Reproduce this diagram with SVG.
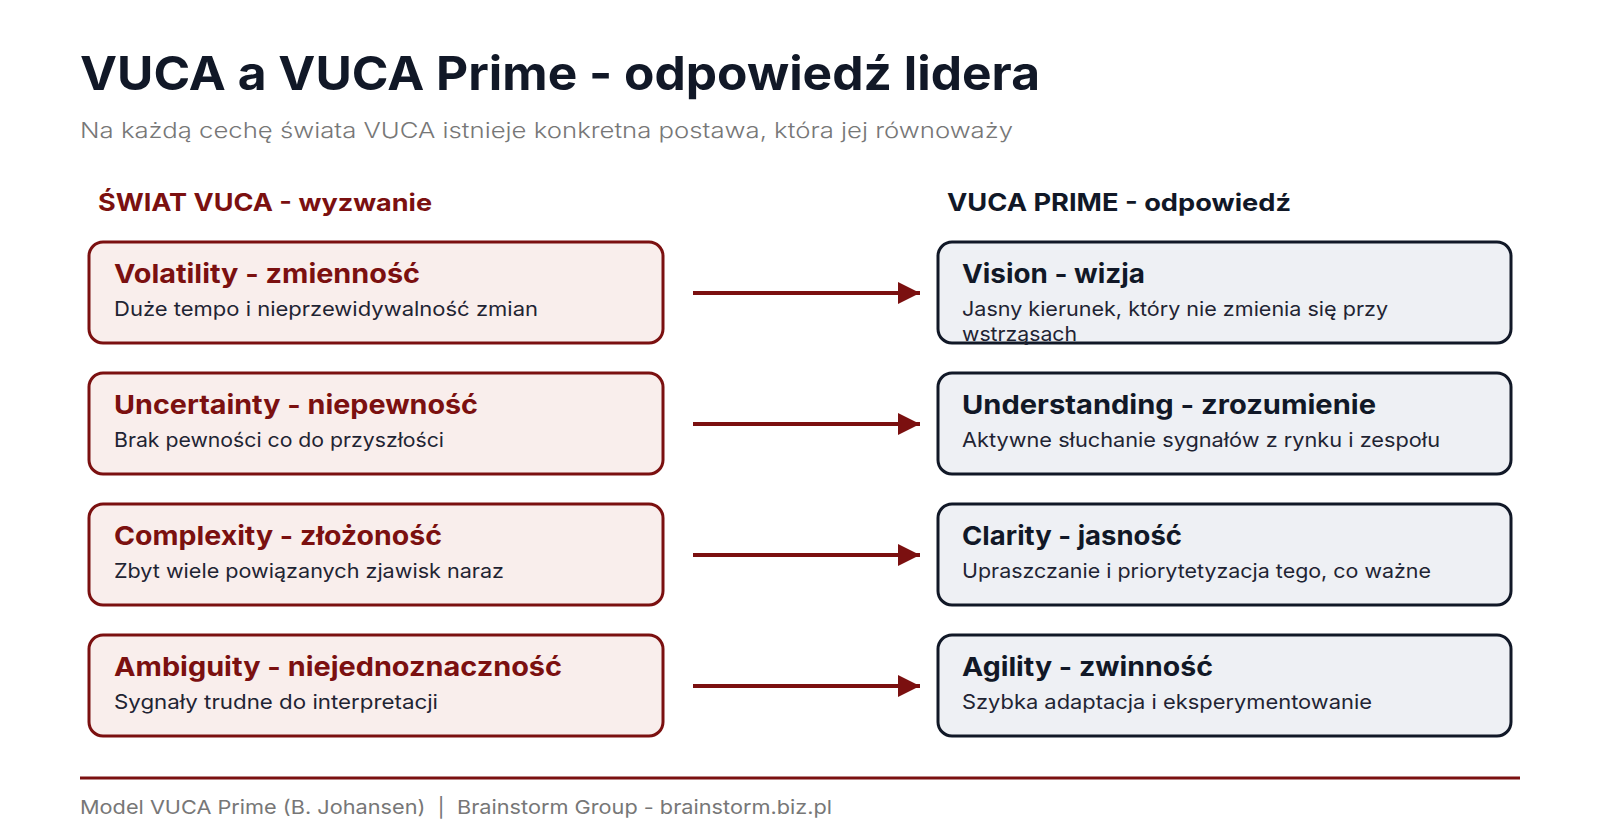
<svg xmlns="http://www.w3.org/2000/svg" width="1600" height="832" viewBox="0 0 1600 832">
<defs>
<style>
text{font-family:Inter,"Noto Sans","Liberation Sans",sans-serif;}
.title{font-size:47px;font-weight:700;fill:#111827;}
.sub{font-size:22px;font-weight:300;fill:#777777;}
.hdrL{font-size:24px;font-weight:700;fill:#7b1010;}
.hdrR{font-size:24px;font-weight:700;fill:#111827;}
.boxL{fill:#f9eeec;stroke:#7b1010;stroke-width:3;}
.boxR{fill:#eef0f4;stroke:#111827;stroke-width:3;}
.tL{font-size:26px;font-weight:700;fill:#7b1010;}
.tR{font-size:26px;font-weight:700;fill:#111827;}
.d{font-size:20px;font-weight:400;fill:#1f2433;}
.foot{font-size:19px;font-weight:400;fill:#777777;}
.arrow{stroke:#7b1010;stroke-width:4;fill:none;}
</style>
<marker id="ah" markerWidth="22" markerHeight="22" viewBox="0 0 22 22" refX="22" refY="11" orient="auto" markerUnits="userSpaceOnUse">
<path d="M0,0 L22,11 L0,22 Z" fill="#7b1010"/>
</marker>
</defs>
<rect width="1600" height="832" fill="#ffffff"/>
<text class="title" x="80" y="90" textLength="960" lengthAdjust="spacingAndGlyphs">VUCA a VUCA Prime - odpowiedź lidera</text>
<text class="sub" x="80" y="138" textLength="933" lengthAdjust="spacingAndGlyphs">Na każdą cechę świata VUCA istnieje konkretna postawa, która jej równoważy</text>
<text class="hdrL" x="98" y="211" textLength="334" lengthAdjust="spacingAndGlyphs">ŚWIAT VUCA - wyzwanie</text>
<text class="hdrR" x="947" y="211" textLength="344" lengthAdjust="spacingAndGlyphs">VUCA PRIME - odpowiedź</text>

<g id="volatility">
<rect class="boxL" x="89" y="242" width="574" height="101" rx="14"/>
<text class="tL" x="114" y="283" textLength="306" lengthAdjust="spacingAndGlyphs">Volatility - zmienność</text>
<text class="d" x="114" y="316" textLength="424" lengthAdjust="spacingAndGlyphs">Duże tempo i nieprzewidywalność zmian</text>
</g>
<g id="uncertainty">
<rect class="boxL" x="89" y="373" width="574" height="101" rx="14"/>
<text class="tL" x="114" y="414" textLength="364" lengthAdjust="spacingAndGlyphs">Uncertainty - niepewność</text>
<text class="d" x="114" y="447" textLength="330" lengthAdjust="spacingAndGlyphs">Brak pewności co do przyszłości</text>
</g>
<g id="complexity">
<rect class="boxL" x="89" y="504" width="574" height="101" rx="14"/>
<text class="tL" x="114" y="545" textLength="328" lengthAdjust="spacingAndGlyphs">Complexity - złożoność</text>
<text class="d" x="114" y="578" textLength="390" lengthAdjust="spacingAndGlyphs">Zbyt wiele powiązanych zjawisk naraz</text>
</g>
<g id="ambiguity">
<rect class="boxL" x="89" y="635" width="574" height="101" rx="14"/>
<text class="tL" x="114" y="676" textLength="448" lengthAdjust="spacingAndGlyphs">Ambiguity - niejednoznaczność</text>
<text class="d" x="114" y="709" textLength="324" lengthAdjust="spacingAndGlyphs">Sygnały trudne do interpretacji</text>
</g>

<g id="vision">
<rect class="boxR" x="938" y="242" width="573" height="101" rx="14"/>
<text class="tR" x="962" y="283" textLength="183" lengthAdjust="spacingAndGlyphs">Vision - wizja</text>
<text class="d" x="962" y="316" textLength="426" lengthAdjust="spacingAndGlyphs">Jasny kierunek, który nie zmienia się przy</text>
<text class="d" x="962" y="341" textLength="115" lengthAdjust="spacingAndGlyphs">wstrząsach</text>
</g>
<g id="understanding">
<rect class="boxR" x="938" y="373" width="573" height="101" rx="14"/>
<text class="tR" x="962" y="414" textLength="414" lengthAdjust="spacingAndGlyphs">Understanding - zrozumienie</text>
<text class="d" x="962" y="447" textLength="478" lengthAdjust="spacingAndGlyphs">Aktywne słuchanie sygnałów z rynku i zespołu</text>
</g>
<g id="clarity">
<rect class="boxR" x="938" y="504" width="573" height="101" rx="14"/>
<text class="tR" x="962" y="545" textLength="220" lengthAdjust="spacingAndGlyphs">Clarity - jasność</text>
<text class="d" x="962" y="578" textLength="469" lengthAdjust="spacingAndGlyphs">Upraszczanie i priorytetyzacja tego, co ważne</text>
</g>
<g id="agility">
<rect class="boxR" x="938" y="635" width="573" height="101" rx="14"/>
<text class="tR" x="962" y="676" textLength="251" lengthAdjust="spacingAndGlyphs">Agility - zwinność</text>
<text class="d" x="962" y="709" textLength="410" lengthAdjust="spacingAndGlyphs">Szybka adaptacja i eksperymentowanie</text>
</g>

<g id="connectors">
<line class="arrow" x1="693" y1="293" x2="920" y2="293" marker-end="url(#ah)"/>
<line class="arrow" x1="693" y1="424" x2="920" y2="424" marker-end="url(#ah)"/>
<line class="arrow" x1="693" y1="555" x2="920" y2="555" marker-end="url(#ah)"/>
<line class="arrow" x1="693" y1="686" x2="920" y2="686" marker-end="url(#ah)"/>
</g>

<line x1="80" y1="778" x2="1520" y2="778" stroke="#7b1010" stroke-width="3"/>
<text class="foot" x="80" y="814" textLength="752" lengthAdjust="spacingAndGlyphs">Model VUCA Prime (B. Johansen) &#160;|&#160; Brainstorm Group - brainstorm.biz.pl</text>
</svg>
